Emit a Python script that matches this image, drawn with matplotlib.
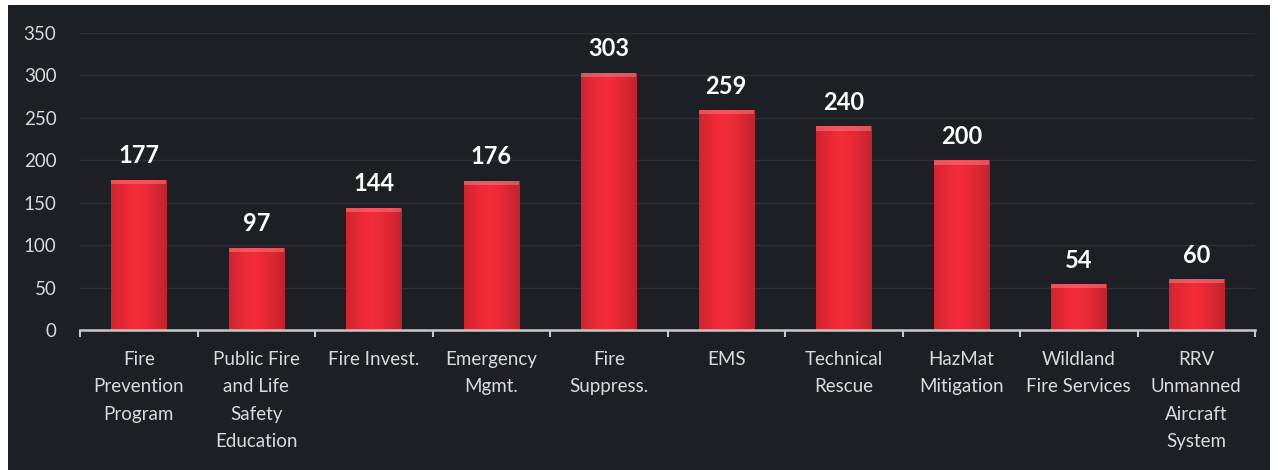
import numpy as np
import matplotlib.pyplot as plt
from matplotlib.patches import Rectangle

# data
categories = ["Fire\nPrevention\nProgram", "Public Fire\nand Life\nSafety\nEducation",
              "Fire Invest.", "Emergency\nMgmt.", "Fire\nSuppress.", "EMS",
              "Technical\nRescue", "HazMat\nMitigation", "Wildland\nFire Services",
              "RRV\nUnmanned\nAircraft\nSystem"]
counts = [177, 97, 144, 176, 303, 259, 240, 200, 54, 60]
yticks = [0, 50, 100, 150, 200, 250, 300, 350]

bg = "#1c1f24"
txt = "#dadada"
plt.rcParams['font.family'] = ['Lato', 'DejaVu Sans']

fig = plt.figure(figsize=(12.78, 4.70), dpi=100, facecolor="white")
# dark slide panel (scan has a light rim at top/left/right)
fig.patches.append(Rectangle((8 / 1278, 0), 1262 / 1278, 465 / 470,
                             transform=fig.transFigure, facecolor=bg,
                             edgecolor="none", zorder=-5))

ax = fig.add_axes([80 / 1278, 140 / 470, 1175 / 1278, 297 / 470])
ax.set_facecolor("none")

x = np.arange(len(categories))
bars = ax.bar(x, counts, width=0.47, color="#ee2a35", edgecolor="none", zorder=3)

# soft horizontal shading on each bar
grad = np.linspace(0, 1, 64)
shade = 1 - 0.25 * np.abs(grad - 0.45) ** 1.5 * 2
img = np.zeros((1, 64, 4))
img[..., 0] = 0.95 * shade
img[..., 1] = 0.17 * shade
img[..., 2] = 0.22 * shade
img[..., 3] = 1
for b in bars:
    x0, w, h = b.get_x(), b.get_width(), b.get_height()
    im = ax.imshow(img, extent=[x0, x0 + w, 0, h], aspect="auto", zorder=3)
    im.set_clip_path(b)
    # lighter bevel at the top
    ax.add_patch(Rectangle((x0, h - 5), w, 5, facecolor="#f47a80",
                           edgecolor="none", alpha=0.55, zorder=4))

for xi, v in zip(x, counts):
    ax.annotate(str(v), (xi, v), xytext=(0, 9), textcoords="offset points",
                ha="center", va="bottom", color="white", fontsize=17,
                fontweight="bold", zorder=5)

ax.set_xlim(-0.5, len(categories) - 0.5)
ax.set_ylim(0, 350)
ax.set_yticks(yticks)
ax.yaxis.grid(True, color="#2c3036", linewidth=1, zorder=0)
ax.tick_params(axis="y", length=0, colors=txt, labelsize=13.5, pad=17)

ax.set_xticks(x)
ax.set_xticklabels(categories, color=txt, fontsize=13.5, linespacing=1.75)
ax.set_xticks(np.arange(len(categories) + 1) - 0.5, minor=True)
ax.tick_params(axis="x", which="major", length=0, pad=15)
ax.tick_params(axis="x", which="minor", length=5, color="#c8c8c8", width=1.5)

for s in ["top", "right", "left"]:
    ax.spines[s].set_visible(False)
ax.spines["bottom"].set_color("#c8c8c8")
ax.spines["bottom"].set_linewidth(1.8)
ax.spines["bottom"].set_zorder(6)

fig.savefig("out.png", dpi=100, facecolor=fig.get_facecolor())
